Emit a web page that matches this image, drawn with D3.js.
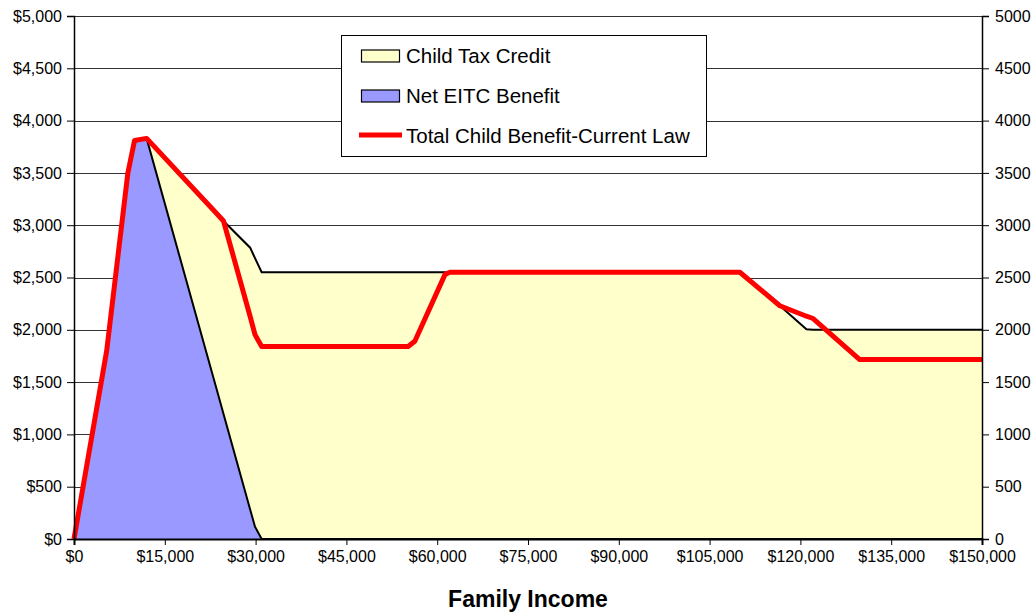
<!DOCTYPE html>
<html>
<head>
<meta charset="utf-8">
<script src="https://cdn.jsdelivr.net/npm/d3@7"></script>
<style>
  html, body { margin: 0; padding: 0; background: #fff; }
  svg { display: block; font-family: Arial, "Liberation Sans", sans-serif; }
</style>
</head>
<body>
<svg id="chart" width="1036" height="616"></svg>
<script>
// ---- data ----
const incomes  = [0, 5400, 8900, 10000, 12000, 23600, 24700, 29100, 29900, 31000, 55200, 56300, 61300, 62100, 110000, 116600, 121000, 122100, 129800, 150000];
const eitc     = [0, 1800, 3500, 3810, 3830, 1424, 1196, 283, 118, 0, 0, 0, 0, 0, 0, 0, 0, 0, 0, 0];
const ctc      = [0, 0, 0, 0, 0, 1686, 1844, 2502, 2567, 2550, 2550, 2550, 2550, 2550, 2550, 2230, 2005, 2000, 2000, 2000];
const totalCur = [0, 1800, 3500, 3810, 3830, 3110, 3040, 2127, 1954, 1840, 1840, 1890, 2530, 2550, 2550, 2230, 2130, 2108, 1715, 1715];
const xTicks   = [0, 15000, 30000, 45000, 60000, 75000, 90000, 105000, 120000, 135000, 150000];
const yTicks   = [0, 500, 1000, 1500, 2000, 2500, 3000, 3500, 4000, 4500, 5000];
const seriesNames = ["Child Tax Credit", "Net EITC Benefit", "Total Child Benefit-Current Law"];
const xTitle = "Family Income";

const table = incomes.map((inc, i) => ({ income: inc, eitc: eitc[i], ctc: ctc[i], total: totalCur[i] }));

const svg = d3.select("#chart");
const L = 74, R = 982, T = 16, B = 539;
const x = d3.scaleLinear().domain([0, 150000]).range([L, R]);
const y = d3.scaleLinear().domain([0, 5000]).range([B, T]);

// gridlines
svg.append("g").selectAll("line").data(yTicks.filter(d => d > 0)).join("line")
  .attr("x1", L).attr("x2", R)
  .attr("y1", d => Math.round(y(d)) + 0.5).attr("y2", d => Math.round(y(d)) + 0.5)
  .attr("stroke", "#333").attr("stroke-width", 1);

// stacked areas
const stack = d3.stack().keys(["eitc", "ctc"]);
const stacked = stack(table);
const area = d3.area().x(d => x(d.data.income)).y0(d => y(d[0])).y1(d => y(d[1]));
const topLine = d3.line().x(d => x(d.data.income)).y(d => y(d[1]));

// yellow (CTC) on top of EITC
svg.append("path").datum(stacked[1]).attr("d", area).attr("fill", "#FFFFCC").attr("stroke", "none");
svg.append("path").datum(stacked[0]).attr("d", area).attr("fill", "#9999FF").attr("stroke", "none");
svg.append("path").datum(stacked[1]).attr("d", topLine).attr("fill", "none").attr("stroke", "#000").attr("stroke-width", 2);
svg.append("path").datum(stacked[0]).attr("d", topLine).attr("fill", "none").attr("stroke", "#000").attr("stroke-width", 2);

// red line
const line = d3.line().x(d => x(d.income)).y(d => y(d.total));
svg.append("path").datum(table).attr("d", line).attr("fill", "none")
  .attr("stroke", "#FF0000").attr("stroke-width", 5).attr("stroke-linejoin", "round");

// axes
const fmtL = d3.format("$,");
const axL = svg.append("g").attr("transform", `translate(${L},0)`)
  .call(d3.axisLeft(y).tickValues(yTicks).tickFormat(fmtL).tickSize(7).tickPadding(5));
const axR = svg.append("g").attr("transform", `translate(${R},0)`)
  .call(d3.axisRight(y).tickValues(yTicks).tickFormat(d3.format("d")).tickSize(7).tickPadding(6));
const axB = svg.append("g").attr("transform", `translate(0,${B})`)
  .call(d3.axisBottom(x).tickValues(xTicks).tickFormat(fmtL).tickSize(6).tickPadding(6));
[axL, axR, axB].forEach(g => {
  g.select(".domain").attr("stroke", "#000").attr("stroke-width", 1.5);
  g.selectAll(".tick line").attr("stroke", "#000");
  g.selectAll(".tick text").attr("fill", "#000").style("font-size", "16px")
   .style("font-family", "Arial, 'Liberation Sans', sans-serif");
});
axB.select(".domain").attr("stroke-width", 2);

// x title
svg.append("text").attr("x", 528).attr("y", 607).attr("text-anchor", "middle")
  .style("font-size", "23px").style("font-weight", "bold").text(xTitle);

// legend
const lg = svg.append("g");
lg.append("rect").attr("x", 341.5).attr("y", 35.5).attr("width", 365).attr("height", 121)
  .attr("fill", "#fff").attr("stroke", "#000").attr("stroke-width", 1);
const rows = [
  { name: seriesNames[0], type: "rect", fill: "#FFFFCC", cy: 56 },
  { name: seriesNames[1], type: "rect", fill: "#9999FF", cy: 96 },
  { name: seriesNames[2], type: "line", fill: "#FF0000", cy: 136 }
];
rows.forEach(r => {
  if (r.type === "rect") {
    lg.append("rect").attr("x", 361.5).attr("y", r.cy - 6).attr("width", 38).attr("height", 12)
      .attr("fill", r.fill).attr("stroke", "#000").attr("stroke-width", 1.2);
  } else {
    lg.append("line").attr("x1", 359).attr("x2", 402).attr("y1", r.cy - 1).attr("y2", r.cy - 1)
      .attr("stroke", r.fill).attr("stroke-width", 5);
  }
  lg.append("text").attr("x", 406).attr("y", r.cy + 7).style("font-size", "20.5px").attr("fill", "#000").text(r.name);
});
</script>
</body>
</html>
